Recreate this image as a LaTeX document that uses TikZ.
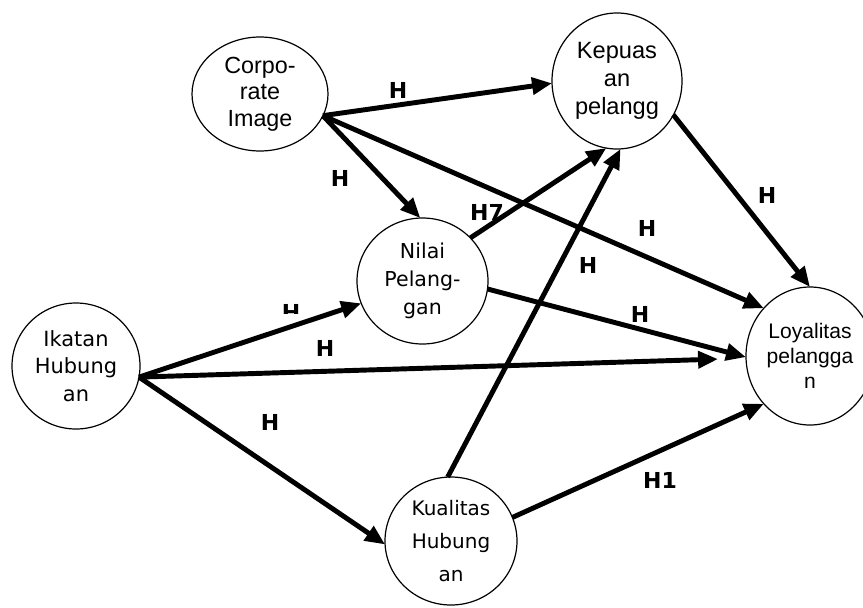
\documentclass[tikz,border=0pt]{standalone}
\usepackage{fontspec}
\setmainfont{Liberation Sans}
\newfontfamily\verd{DejaVu Sans}
\usetikzlibrary{shapes.geometric, arrows.meta}

\begin{document}
\begin{tikzpicture}[x=0.75pt,y=0.75pt,yscale=-1,xscale=1,
  var/.style={draw, line width=0.9pt, ellipse, inner sep=0pt, outer sep=0pt, align=center},
  path/.style={line width=3.7pt, -{Triangle[length=15pt,width=12.5pt]}},
  hyp/.style={font=\verd\bfseries\fontsize{16.5}{19}\selectfont, inner sep=0pt}]
\useasboundingbox (0,0) rectangle (863,607);

% Variabel
\node[var, minimum width=102pt, minimum height=85.5pt, font=\fontsize{17.5}{20}\selectfont] (corp) at (260,94) {Corpo-\\rate\\Image};
\node[var, minimum width=97.5pt, minimum height=102pt, font=\fontsize{17.7}{21}\selectfont] (kep) at (617,81) {Kepuas\\an\\pelangg};
\node[var, minimum width=98.25pt, minimum height=94.5pt, font=\verd\fontsize{15.4}{21}\selectfont] (nilai) at (422.5,281) {Nilai\\Pelang-\\gan};
\node[var, minimum width=96pt, minimum height=94.5pt, font=\verd\fontsize{15.7}{20.6}\selectfont] (ikatan) at (76,366) {Ikatan\\Hubung\\an};
\node[var, minimum width=96pt, minimum height=103.5pt, font=\fontsize{15.8}{19}\selectfont] (loyal) at (810,356) {Loyalitas\\pelangga\\n};
\node[var, minimum width=99pt, minimum height=96pt, font=\verd\fontsize{15}{24.8}\selectfont] (kual) at (451,541) {Kualitas\\Hubung\\an};

% Jalur
\draw[path] (corp.-19.5) -- (kep.182);
\draw[path] (corp.-19.5) -- (nilai.92);
\draw[path] (corp.-19.5) -- (loyal.134);
\draw[path] (nilai.42) -- (kep.-99.6);
\draw[path] (nilai.-7.8) -- (loyal.181);
\draw[path] (ikatan.-10) -- (nilai.200.6);
\draw[path, shorten >=21pt] (ikatan.-10) -- (loyal.182);
\draw[path] (ikatan.-10) -- (kual.183);
\draw[path] (kual.93) -- (kep.-87);
\draw[path] (kual.21.5) -- (loyal.226);
\draw[path] (kep.-31.7) -- (loyal.90);

% Hipotesis
\node[hyp] (h1) at (398,90) {H};
\node[hyp] (h2) at (340,178) {H};
\node[hyp] (h3) at (647,228) {H};
\node[hyp] (h7) at (487,212) {H7};
\node[hyp] (h5) at (640,314) {H};
\begin{scope}
\clip (270,295) rectangle (310,313.5);
\node[hyp] (h6) at (291,312) {H};
\end{scope}
\node[hyp] (h4) at (325,348) {H};
\node[hyp] (h8) at (270,422) {H};
\node[hyp] (h9) at (588,265) {H};
\node[hyp] (h10) at (660,480) {H1};
\node[hyp] (h11) at (767,195) {H};

\end{tikzpicture}
\end{document}
